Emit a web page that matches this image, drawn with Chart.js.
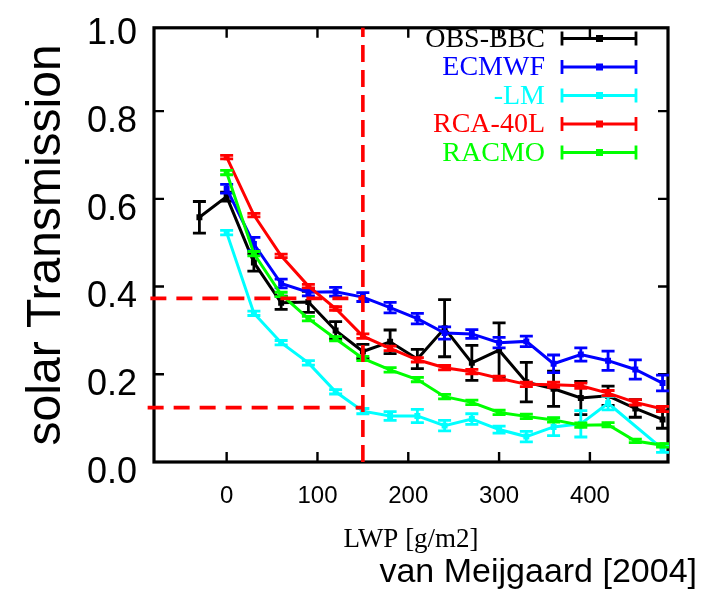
<!DOCTYPE html>
<html>
<head>
<meta charset="utf-8">
<script src="https://cdn.jsdelivr.net/npm/chart.js@4.4.0/dist/chart.umd.min.js"></script>
<style>
  html, body { margin: 0; padding: 0; background: #fff; }
</style>
</head>
<body>
<canvas id="chart" width="717" height="590"></canvas>
<script>
// LWP bins [g/m2]
const lwp = [-30, 0, 30, 60, 90, 120, 150, 180, 210, 240, 270, 300, 330, 360, 390, 420, 450, 480];

const seriesNames = ['OBS-BBC', 'ECMWF', '-LM', 'RCA-40L', 'RACMO'];
const seriesColors = ['#000000', '#0000ff', '#00ffff', '#ff0000', '#00ff00'];

// solar transmission per series, with half-length of the error bars
const obsBBC = [0.558, 0.605, 0.455, 0.363, 0.365, 0.300, 0.252, 0.274, 0.235, 0.305, 0.226, 0.255, 0.182, 0.167, 0.146, 0.151, 0.122, 0.097];
const obsErr = [0.036, 0.010, 0.020, 0.015, 0.024, 0.020, 0.016, 0.027, 0.022, 0.065, 0.040, 0.062, 0.045, 0.040, 0.038, 0.022, 0.020, 0.020];

const ecmwf = [null, 0.623, 0.497, 0.407, 0.387, 0.388, 0.376, 0.352, 0.327, 0.294, 0.292, 0.272, 0.275, 0.224, 0.245, 0.231, 0.211, 0.180];
const ecmwfErr = [0, 0.010, 0.015, 0.010, 0.008, 0.010, 0.010, 0.012, 0.012, 0.014, 0.010, 0.012, 0.012, 0.020, 0.015, 0.022, 0.022, 0.018];

const lm = [null, 0.523, 0.339, 0.272, 0.226, 0.160, 0.116, 0.105, 0.105, 0.083, 0.098, 0.074, 0.058, 0.080, 0.087, 0.134, null, 0.030];
const lmErr = [0, 0.005, 0.005, 0.005, 0.005, 0.005, 0.006, 0.010, 0.015, 0.012, 0.012, 0.008, 0.012, 0.020, 0.030, 0.015, 0, 0.008];

const rca = [null, 0.695, 0.563, 0.470, 0.401, 0.350, 0.287, 0.259, 0.233, 0.215, 0.206, 0.191, 0.177, 0.176, 0.174, 0.157, 0.136, 0.121];
const rcaErr = [0, 0.004, 0.004, 0.004, 0.004, 0.004, 0.005, 0.005, 0.005, 0.005, 0.005, 0.005, 0.005, 0.006, 0.006, 0.006, 0.006, 0.006];

const racmo = [null, 0.660, 0.475, 0.382, 0.327, 0.281, 0.236, 0.210, 0.188, 0.149, 0.136, 0.113, 0.104, 0.096, 0.084, 0.085, 0.048, 0.038];
const racmoErr = [0, 0.005, 0.005, 0.005, 0.005, 0.005, 0.005, 0.005, 0.005, 0.005, 0.005, 0.005, 0.005, 0.005, 0.005, 0.005, 0.004, 0.004];

const xTicks = [0, 100, 200, 300, 400];
const yTicks = [0.0, 0.2, 0.4, 0.6, 0.8, 1.0];

// red dashed guide lines
const refLwp = 150;
const refTrans = [0.373, 0.124];
const refStart = [-84, -87];

const allValues = [obsBBC, ecmwf, lm, rca, racmo];
const allErrors = [obsErr, ecmwfErr, lmErr, rcaErr, racmoErr];

const datasets = seriesNames.map((name, i) => ({
  label: name,
  data: lwp.map((x, k) => ({ x: x, y: allValues[i][k] })),
  errors: allErrors[i],
  borderColor: seriesColors[i],
  backgroundColor: seriesColors[i],
  borderWidth: 3,
  pointStyle: 'rect',
  pointRadius: 4.2,
  pointBorderWidth: 0,
  spanGaps: true,
  order: 5 - i
}));

refTrans.forEach((t, i) => {
  datasets.push({
    label: 'ref' + i,
    data: [{ x: refStart[i], y: t }, { x: refLwp, y: t }],
    borderColor: '#ff0000', borderWidth: 3.6, borderDash: [16, 10],
    pointRadius: 0, clip: false, order: 0
  });
});
datasets.push({
  label: 'refv',
  data: [{ x: refLwp, y: 0 }, { x: refLwp, y: 0.99 }],
  borderColor: '#ff0000', borderWidth: 3.6, borderDash: [17, 8],
  pointRadius: 0, clip: false, order: 0
});

// error bars drawn from the scales, right after each dataset
const errorBars = {
  id: 'errorBars',
  afterDatasetDraw(chart, args) {
    const ds = chart.data.datasets[args.index];
    if (!ds.errors) return;
    const xs = chart.scales.x, ys = chart.scales.y, ctx = chart.ctx;
    ctx.save();
    ctx.strokeStyle = ds.borderColor;
    ctx.lineWidth = 2.8;
    ds.data.forEach((p, k) => {
      if (p.y == null) return;
      const e = ds.errors[k];
      const px = xs.getPixelForValue(p.x);
      const t = ys.getPixelForValue(p.y + e), b = ys.getPixelForValue(p.y - e);
      ctx.beginPath();
      ctx.moveTo(px, t); ctx.lineTo(px, b);
      ctx.moveTo(px - 6.5, t); ctx.lineTo(px + 6.5, t);
      ctx.moveTo(px - 6.5, b); ctx.lineTo(px + 6.5, b);
      ctx.stroke();
    });
    ctx.restore();
  }
};

// gnuplot style box with inward ticks
const frame = {
  id: 'frame',
  beforeDatasetsDraw(chart) {
    const { ctx, chartArea: a } = chart;
    const xs = chart.scales.x, ys = chart.scales.y;
    ctx.save();
    ctx.strokeStyle = '#000';
    ctx.lineWidth = 2.4;
    ctx.beginPath();
    xTicks.forEach(v => {
      const px = xs.getPixelForValue(v);
      ctx.moveTo(px, a.bottom); ctx.lineTo(px, a.bottom - 10);
      ctx.moveTo(px, a.top); ctx.lineTo(px, a.top + 10);
    });
    yTicks.forEach(v => {
      const py = ys.getPixelForValue(v);
      if (py < a.top + 2 || py > a.bottom - 2) return;
      ctx.moveTo(a.left, py); ctx.lineTo(a.left + 10, py);
      ctx.moveTo(a.right, py); ctx.lineTo(a.right - 10, py);
    });
    ctx.stroke();
    ctx.lineWidth = 3.2;
    ctx.strokeRect(a.left, a.top, a.right - a.left, a.bottom - a.top);
    ctx.restore();
  },
  afterDraw(chart) {
    const ctx = chart.ctx;
    // key in the upper right corner
    ctx.save();
    ctx.font = '28px "Liberation Serif"';
    ctx.textAlign = 'right';
    ctx.textBaseline = 'middle';
    seriesNames.forEach((name, i) => {
      const y = 38.5 + i * 28.5;
      ctx.fillStyle = seriesColors[i];
      ctx.fillText(name, 545, y + 1);
      ctx.strokeStyle = seriesColors[i];
      ctx.lineWidth = 2.8;
      ctx.beginPath();
      ctx.moveTo(562, y); ctx.lineTo(636, y);
      ctx.moveTo(562, y - 7); ctx.lineTo(562, y + 7);
      ctx.moveTo(636, y - 7); ctx.lineTo(636, y + 7);
      ctx.stroke();
      ctx.fillRect(596, y - 3.5, 7, 7);
    });
    ctx.font = '34px "Liberation Sans"';
    ctx.fillStyle = '#000';
    ctx.textBaseline = 'alphabetic';
    ctx.fillText('van Meijgaard [2004]', 697, 582);
    ctx.restore();
  }
};

new Chart(document.getElementById('chart'), {
  type: 'line',
  data: { datasets: datasets },
  options: {
    responsive: false,
    animation: false,
    layout: { padding: { top: 12, right: 49, left: 0, bottom: 0 } },
    plugins: { legend: { display: false }, tooltip: { enabled: false } },
    scales: {
      x: {
        type: 'linear', min: -80, max: 486,
        afterBuildTicks: s => { s.ticks = xTicks.map(v => ({ value: v })); },
        afterFit: s => { s.height = 128; },
        grid: { display: false, drawTicks: false },
        border: { display: false },
        ticks: {
          color: '#000', padding: 20, maxRotation: 0, autoSkip: false,
          font: { family: 'Liberation Sans', size: 24 }
        },
        title: {
          display: true, text: 'LWP [g/m2]', color: '#000',
          font: { family: 'Liberation Serif', size: 27 },
          padding: { top: 0, bottom: 34 }
        }
      },
      y: {
        type: 'linear', min: 0, max: 0.99,
        afterBuildTicks: s => { s.ticks = yTicks.map(v => ({ value: v })); },
        afterFit: s => { s.width = 154; },
        grid: { display: false, drawTicks: false },
        border: { display: false },
        ticks: {
          color: '#000', padding: 17, labelOffset: 11, autoSkip: false,
          font: { family: 'Liberation Sans', size: 36, lineHeight: 0.6 },
          callback: v => v.toFixed(1)
        },
        title: {
          display: true, text: 'solar Transmission', color: '#000',
          font: { family: 'Liberation Sans', size: 48 },
          padding: { top: 18, bottom: 0 }
        }
      }
    }
  },
  plugins: [errorBars, frame]
});
</script>
</body>
</html>
